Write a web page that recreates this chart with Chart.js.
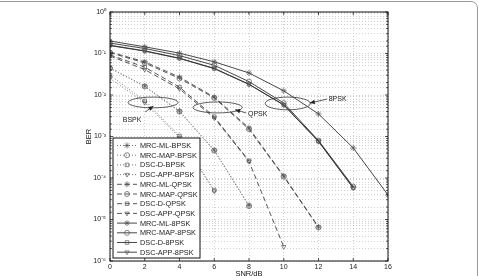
<!DOCTYPE html>
<html>
<head>
<meta charset="utf-8">
<script src="https://cdn.jsdelivr.net/npm/chart.js@4.4.1/dist/chart.umd.min.js"></script>
<style>
	body { margin: 0; background: #fff; overflow: hidden; }
	#wrap { position: relative; width: 480px; height: 276px; }
	#frame { position: absolute; left: -12px; top: 1px; width: 490px; height: 300px; border: 1px solid #999; border-radius: 7px; box-sizing: border-box; pointer-events: none; }
	canvas { display: block; }
</style>
</head>
<body>
<div id="wrap">
	<canvas id="berChart" width="480" height="276"></canvas>
	<div id="frame"></div>
</div>
<script>
// SNR points (dB)
const snr = [0, 2, 4, 6, 8, 10, 12, 14, 16];

// BPSK
const mlBpsk = [0.045, 0.0165, 0.0041, 0.00047, 0.000022];
const mapBpsk = [0.044, 0.016, 0.004, 0.00046, 0.000021];
const dBpsk = [0.03, 0.0072, 0.00103, 0.000051];
const appBpsk = [0.025, 0.0066, 0.00095, 0.000048];

// QPSK
const mlQpsk = [0.109, 0.063, 0.027, 0.0089, 0.0016, 0.000112, 0.0000066];
const mapQpsk = [0.105, 0.059, 0.025, 0.0085, 0.0015, 0.000108, 0.0000064];
const dQpsk = [0.092, 0.047, 0.0155, 0.003, 0.00026];
const appQpsk = [0.087, 0.041, 0.014, 0.0028, 0.00025, 0.0000022];

// 8PSK
const ml8psk = [0.2, 0.145, 0.102, 0.063, 0.034, 0.0126, 0.0035, 0.00053, 0.000039];
const map8psk = [0.178, 0.132, 0.089, 0.052, 0.021, 0.0064, 0.0008, 0.000062];
const d8psk = [0.158, 0.116, 0.077, 0.044, 0.0182, 0.0058, 0.00077, 0.000058];
const app8psk = [0.155, 0.114, 0.076, 0.043, 0.018, 0.0057, 0.00076, 0.000057];

const seriesNames = [
	"MRC-ML-BPSK", "MRC-MAP-BPSK", "DSC-D-BPSK", "DSC-APP-BPSK",
	"MRC-ML-QPSK", "MRC-MAP-QPSK", "DSC-D-QPSK", "DSC-APP-QPSK",
	"MRC-ML-8PSK", "MRC-MAP-8PSK", "DSC-D-8PSK", "DSC-APP-8PSK"
];
const seriesValues = [
	mlBpsk, mapBpsk, dBpsk, appBpsk,
	mlQpsk, mapQpsk, dQpsk, appQpsk,
	ml8psk, map8psk, d8psk, app8psk
];

const yTickPowers = [0, -1, -2, -3, -4, -5, -6];

// ellipse groups with their labels, in data units
const groups = [
	{ label: "BSPK", x0: 1.04, x1: 3.92, y0: 0.0049, y1: 0.0089, tx: 1.27, ty: 0.0025, ax0: 2.02, ay0: 0.0039, ax1: 2.5, ay1: 0.0054 },
	{ label: "QPSK", x0: 4.78, x1: 7.61, y0: 0.0037, y1: 0.0068, tx: 8.5, ty: 0.0034, ax0: 7.84, ay0: 0.0037, ax1: 7.2, ay1: 0.0044 },
	{ label: "8PSK", x0: 8.93, x1: 11.53, y0: 0.0044, y1: 0.0089, tx: 13.1, ty: 0.008, ax0: 12.5, ay0: 0.008, ax1: 11.5, ay1: 0.0064 }
];

const FONT = "'Liberation Sans', Arial, sans-serif";
const styles = [
	{ dash: [1, 2], color: "#777", width: 1 },
	{ dash: [5, 3], color: "#444", width: 0.9 },
	{ dash: [], color: "#333", width: 0.9 }
];
const markers = ["star", "circle", "rect", "triangle"];

const sup = { "0": "\u2070", "1": "\u00b9", "2": "\u00b2", "3": "\u00b3", "4": "\u2074", "5": "\u2075", "6": "\u2076", "-": "\u207b" };
function powLabel(e) {
	return "10" + String(e).split("").map(c => sup[c]).join("");
}

const datasets = seriesNames.map(function (name, i) {
	const st = styles[Math.floor(i / 4)];
	const mk = markers[i % 4];
	return {
		label: name,
		data: seriesValues[i].map((v, j) => ({ x: snr[j], y: v })),
		borderColor: st.color,
		borderWidth: st.width,
		borderDash: st.dash,
		pointStyle: mk,
		pointRotation: mk === "triangle" ? 180 : 0,
		pointRadius: mk === "star" ? 3 : 2.5,
		pointBorderColor: "#555",
		pointBackgroundColor: "rgba(0,0,0,0)",
		pointBorderWidth: 0.7,
		tension: 0,
		fill: false
	};
});

function arrow(ctx, x0, y0, x1, y1) {
	ctx.beginPath();
	ctx.moveTo(x0, y0);
	ctx.lineTo(x1, y1);
	ctx.stroke();
	const a = Math.atan2(y1 - y0, x1 - x0);
	const L = 5, W = 2.2;
	ctx.beginPath();
	ctx.moveTo(x1, y1);
	ctx.lineTo(x1 - L * Math.cos(a) + W * Math.sin(a), y1 - L * Math.sin(a) - W * Math.cos(a));
	ctx.lineTo(x1 - L * Math.cos(a) - W * Math.sin(a), y1 - L * Math.sin(a) + W * Math.cos(a));
	ctx.closePath();
	ctx.fill();
}

const decor = {
	id: "decor",
	afterDraw: function (chart) {
		const ctx = chart.ctx;
		const area = chart.chartArea;
		const xs = chart.scales.x, ys = chart.scales.y;
		ctx.save();
		ctx.setLineDash([]);

		// inner tick marks
		ctx.strokeStyle = "#222";
		ctx.lineWidth = 0.8;
		xs.ticks.forEach(function (t) {
			const px = xs.getPixelForValue(t.value);
			ctx.beginPath();
			ctx.moveTo(px, area.bottom); ctx.lineTo(px, area.bottom - 3);
			ctx.moveTo(px, area.top); ctx.lineTo(px, area.top + 3);
			ctx.stroke();
		});
		ys.ticks.forEach(function (t) {
			const py = ys.getPixelForValue(t.value);
			const e = Math.log10(t.value);
			const len = Math.abs(e - Math.round(e)) < 1e-6 ? 3 : 1.8;
			ctx.beginPath();
			ctx.moveTo(area.left, py); ctx.lineTo(area.left + len, py);
			ctx.moveTo(area.right, py); ctx.lineTo(area.right - len, py);
			ctx.stroke();
		});

		// box
		ctx.strokeStyle = "#111";
		ctx.lineWidth = 1;
		ctx.strokeRect(area.left, area.top, area.right - area.left, area.bottom - area.top);

		// ellipses, arrows, labels
		ctx.strokeStyle = "#333";
		ctx.fillStyle = "#222";
		ctx.lineWidth = 0.8;
		ctx.font = "7px " + FONT;
		ctx.textAlign = "center";
		ctx.textBaseline = "middle";
		groups.forEach(function (g) {
			const x0 = xs.getPixelForValue(g.x0), x1 = xs.getPixelForValue(g.x1);
			const y0 = ys.getPixelForValue(g.y0), y1 = ys.getPixelForValue(g.y1);
			ctx.beginPath();
			ctx.ellipse((x0 + x1) / 2, (y0 + y1) / 2, Math.abs(x1 - x0) / 2, Math.abs(y1 - y0) / 2, 0, 0, Math.PI * 2);
			ctx.stroke();
			arrow(ctx, xs.getPixelForValue(g.ax0), ys.getPixelForValue(g.ay0), xs.getPixelForValue(g.ax1), ys.getPixelForValue(g.ay1));
			ctx.fillText(g.label, xs.getPixelForValue(g.tx), ys.getPixelForValue(g.ty));
		});

		// axis titles
		ctx.fillStyle = "#111";
		ctx.font = "7.5px " + FONT;
		ctx.fillText("SNR/dB", (area.left + area.right) / 2, 274);
		ctx.save();
		ctx.translate(89, (area.top + area.bottom) / 2);
		ctx.rotate(-Math.PI / 2);
		ctx.fillText("BER", 0, 0);
		ctx.restore();

		// legend
		const lx = area.left + 3, ly = area.top + 126, lw = 87, lh = 120;
		ctx.fillStyle = "#fff";
		ctx.fillRect(lx, ly, lw, lh);
		ctx.strokeStyle = "#111";
		ctx.lineWidth = 1;
		ctx.strokeRect(lx, ly, lw, lh);
		ctx.font = "7.3px " + FONT;
		ctx.textAlign = "left";
		const rowH = 9.7;
		chart.data.datasets.forEach(function (ds, i) {
			const cy = ly + 7.5 + i * rowH;
			ctx.strokeStyle = ds.borderColor;
			ctx.lineWidth = ds.borderWidth;
			ctx.setLineDash(ds.borderDash);
			ctx.beginPath();
			ctx.moveTo(lx + 4, cy);
			ctx.lineTo(lx + 24, cy);
			ctx.stroke();
			ctx.setLineDash([]);
			ctx.fillStyle = "rgba(0,0,0,0)";
			ctx.strokeStyle = ds.pointBorderColor;
			ctx.lineWidth = ds.pointBorderWidth;
			Chart.helpers.drawPoint(ctx, {
				pointStyle: ds.pointStyle,
				rotation: ds.pointRotation,
				radius: ds.pointRadius,
				borderWidth: ds.pointBorderWidth
			}, lx + 14, cy);
			ctx.fillStyle = "#222";
			ctx.fillText(ds.label, lx + 27, cy + 0.5);
		});
		ctx.restore();
	}
};

const ctx = document.getElementById("berChart").getContext("2d");
new Chart(ctx, {
	type: "line",
	data: { datasets: datasets },
	options: {
		responsive: false,
		animation: false,
		layout: { padding: { top: 12, right: 92, left: 0, bottom: 0 } },
		plugins: {
			legend: { display: false },
			tooltip: { enabled: false }
		},
		scales: {
			x: {
				type: "linear",
				min: 0,
				max: 16,
				ticks: { stepSize: 2, color: "#222", font: { family: FONT, size: 7 }, padding: 2 },
				grid: { color: "#c4c4c4", lineWidth: 0.8, drawTicks: false },
				border: { display: false, dash: [1, 2] },
				afterFit: function (s) { s.height = 15; }
			},
			y: {
				type: "logarithmic",
				min: 1e-6,
				max: 1,
				ticks: {
					autoSkip: false,
					color: "#222",
					font: { family: FONT, size: 7 },
					padding: 4,
					callback: function (v) {
						const e = Math.log10(v);
						const r = Math.round(e);
						return Math.abs(e - r) < 1e-6 && yTickPowers.includes(r) ? powLabel(r) : "";
					}
				},
				grid: { color: "#c4c4c4", lineWidth: 0.8, drawTicks: false },
				border: { display: false, dash: [1, 2] },
				afterFit: function (s) { s.width = 110; }
			}
		}
	},
	plugins: [decor]
});
</script>
</body>
</html>
